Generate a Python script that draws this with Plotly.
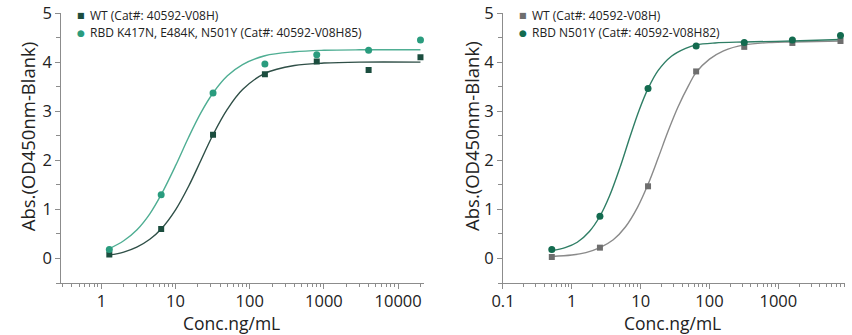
import plotly.graph_objects as go

# ---------------- data ----------------
# Left panel: WT vs RBD K417N, E484K, N501Y
left_conc = [1.28, 6.4, 32, 160, 800, 4000, 20000]
left_wt = [0.08, 0.60, 2.52, 3.75, 4.01, 3.84, 4.10]
left_mut = [0.18, 1.30, 3.37, 3.96, 4.15, 4.24, 4.45]

# fitted curves
left_fit_x = [1.28, 2, 3, 4.5, 6.4, 10, 15, 22, 32, 50, 80, 160, 400, 1000, 3000, 20000]
left_wt_fit = [0.07, 0.13, 0.23, 0.39, 0.60, 0.99, 1.47, 2.00, 2.52, 3.04, 3.44, 3.77, 3.93, 3.98, 4.00, 4.00]
left_mut_fit = [0.20, 0.36, 0.58, 0.91, 1.30, 1.89, 2.47, 2.97, 3.37, 3.72, 3.95, 4.13, 4.21, 4.24, 4.25, 4.25]

# Right panel: WT vs RBD N501Y
right_conc = [0.512, 2.56, 12.8, 64, 320, 1600, 8000]
right_wt = [0.03, 0.22, 1.47, 3.81, 4.31, 4.39, 4.43]
right_mut = [0.18, 0.86, 3.46, 4.33, 4.40, 4.45, 4.54]

right_wt_fit_x = [0.512, 1, 1.6, 2.56, 4, 6, 9, 12.8, 18, 25, 35, 50, 64, 100, 160, 320, 800, 1600, 8000]
right_wt_fit = [0.04, 0.07, 0.12, 0.22, 0.38, 0.64, 1.04, 1.51, 2.05, 2.59, 3.09, 3.53, 3.79, 4.06, 4.23, 4.35, 4.40, 4.41, 4.43]
right_mut_fit_x = [0.512, 0.8, 1.2, 1.8, 2.56, 3.5, 5, 7, 9.5, 12.8, 18, 28, 45, 64, 120, 320, 1600, 8000]
right_mut_fit = [0.16, 0.22, 0.33, 0.55, 0.86, 1.26, 1.85, 2.48, 3.02, 3.46, 3.83, 4.12, 4.28, 4.35, 4.39, 4.41, 4.43, 4.46]

left_names = ["WT (Cat#: 40592-V08H)", "RBD K417N, E484K, N501Y (Cat#: 40592-V08H85)"]
right_names = ["WT (Cat#: 40592-V08H)", "RBD N501Y (Cat#: 40592-V08H82)"]

left_xticks = [1, 10, 100, 1000, 10000]
right_xticks = [0.1, 1, 10, 100, 1000]
y_ticks = [0, 1, 2, 3, 4, 5]

FONT = "Open Sans"
TXT = "#222"
AX = "#8c8c8c"
W, H = 852, 335
MT, MB = 13, 52
PH = H - MT - MB

C_LWT, C_LMUT = "#1b4d3e", "#2a9c7e"
C_RWT, C_RMUT = "#6e6e6e", "#136b4f"

L_DOM = [50 / W, 418 / W]
R_DOM = [498 / W, 845 / W]


def py(p):
    """pixel row -> paper y"""
    return (H - MB - p) / PH


fig = go.Figure()

# left panel
fig.add_trace(go.Scatter(x=left_fit_x, y=left_wt_fit, mode="lines", line=dict(color="#2f4f47", width=1.4, shape="spline"),
                         xaxis="x", yaxis="y", showlegend=False, hoverinfo="skip"))
fig.add_trace(go.Scatter(x=left_fit_x, y=left_mut_fit, mode="lines", line=dict(color="#4fae93", width=1.4, shape="spline"),
                         xaxis="x", yaxis="y", showlegend=False, hoverinfo="skip"))
fig.add_trace(go.Scatter(x=left_conc, y=left_wt, mode="markers", name=left_names[0], showlegend=False,
                         marker=dict(symbol="square", size=6, color=C_LWT), xaxis="x", yaxis="y"))
fig.add_trace(go.Scatter(x=left_conc, y=left_mut, mode="markers", name=left_names[1], showlegend=False,
                         marker=dict(symbol="circle", size=7, color=C_LMUT), xaxis="x", yaxis="y"))

# right panel
fig.add_trace(go.Scatter(x=right_wt_fit_x, y=right_wt_fit, mode="lines", line=dict(color="#8a8a8a", width=1.4, shape="spline"),
                         xaxis="x2", yaxis="y2", showlegend=False, hoverinfo="skip"))
fig.add_trace(go.Scatter(x=right_mut_fit_x, y=right_mut_fit, mode="lines", line=dict(color="#2f7e65", width=1.4, shape="spline"),
                         xaxis="x2", yaxis="y2", showlegend=False, hoverinfo="skip"))
fig.add_trace(go.Scatter(x=right_conc, y=right_wt, mode="markers", name=right_names[0], showlegend=False,
                         marker=dict(symbol="square", size=6, color=C_RWT), xaxis="x2", yaxis="y2"))
fig.add_trace(go.Scatter(x=right_conc, y=right_mut, mode="markers", name=right_names[1], showlegend=False,
                         marker=dict(symbol="circle", size=7, color=C_RMUT), xaxis="x2", yaxis="y2"))

axis_common = dict(showline=True, linecolor=AX, linewidth=1, showgrid=False, zeroline=False,
                   ticks="outside", ticklen=5, tickcolor=AX, tickwidth=1,
                   tickfont=dict(family=FONT, size=16.5, color=TXT))
xtitle_font = dict(family=FONT, size=17.5, color=TXT)
ytitle_font = dict(family=FONT, size=18.5, color=TXT)

xl = dict(axis_common, type="log", domain=L_DOM, range=[-0.54, 4.35],
          tickmode="array", tickvals=left_xticks, ticktext=[str(v) for v in left_xticks],
          minor=dict(ticks="outside", ticklen=3, tickcolor=AX, dtick="D1", showgrid=False),
          ticklabelstandoff=-2, anchor="y")
xr = dict(axis_common, type="log", domain=R_DOM, range=[-1.0, 3.97],
          tickmode="array", tickvals=right_xticks, ticktext=[str(v) for v in right_xticks],
          minor=dict(ticks="outside", ticklen=3, tickcolor=AX, dtick="D1", showgrid=False),
          ticklabelstandoff=-2, anchor="y2")
yl = dict(axis_common, range=[-0.5, 5], tickmode="array", tickvals=y_ticks, ticktext=[str(v) for v in y_ticks],
          minor=dict(ticks="outside", ticklen=4, tickcolor=AX, dtick=0.5, showgrid=False),
          anchor="x", domain=[0, 1])
yr = dict(yl, anchor="x2")

annotations = []
# axis titles
for xc in (15.5, 465.5):
    annotations.append(dict(text="Abs.(OD450nm-Blank)", textangle=-90, xref="paper", yref="paper",
                            x=xc / W, y=py(136), xanchor="center", yanchor="middle",
                            showarrow=False, font=ytitle_font))
for xc in (223, 670):
    annotations.append(dict(text="Conc.ng/mL", xref="paper", yref="paper",
                            x=xc / W, y=py(336.5), xanchor="center", yanchor="bottom",
                            showarrow=False, font=xtitle_font))

# legends (marker glyph + label), one per panel
legend_rows = [15.3, 32.3]
legend_specs = [
    (70.0, 77.5, left_names, [("■", C_LWT, 8), ("●", C_LMUT, 9)]),
    (518.3, 525.7, right_names, [("■", C_RWT, 8), ("●", C_RMUT, 9)]),
]
for mx, tx, names, syms in legend_specs:
    for row, name, (glyph, col, gsize) in zip(legend_rows, names, syms):
        annotations.append(dict(text=glyph, xref="paper", yref="paper", x=mx / W, y=py(row + 0.5),
                                xanchor="center", yanchor="middle", showarrow=False,
                                font=dict(family="DejaVu Sans", size=gsize, color=col)))
        annotations.append(dict(text=name, xref="paper", yref="paper", x=tx / W, y=py(row),
                                xanchor="left", yanchor="middle", showarrow=False,
                                font=dict(family=FONT, size=12, color=TXT)))

fig.update_layout(
    width=W, height=H,
    margin=dict(l=0, r=0, t=MT, b=MB),
    paper_bgcolor="white", plot_bgcolor="white",
    xaxis=xl, yaxis=yl, xaxis2=xr, yaxis2=yr,
    showlegend=False,
    annotations=annotations,
)

fig.write_html("out.html")
